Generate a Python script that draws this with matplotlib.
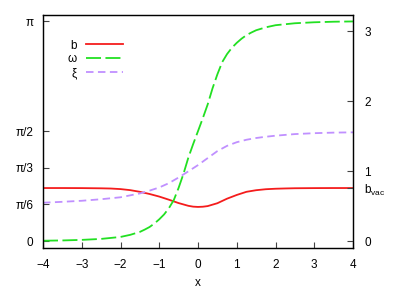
import numpy as np
import matplotlib
matplotlib.use("Agg")
import matplotlib.pyplot as plt

# ---- data ----
x_b = [-4, -3.5, -3, -2.5, -2.25, -2, -1.75, -1.5, -1.25, -1, -0.75, -0.5, -0.25, -0.125, 0,
       0.125, 0.25, 0.5, 0.75, 1, 1.25, 1.5, 1.75, 2, 2.25, 2.5, 3, 3.5, 4]
b_vals = [0.757, 0.757, 0.756, 0.753, 0.750, 0.742, 0.727, 0.703, 0.672, 0.635, 0.590, 0.542, 0.503, 0.491, 0.487,
          0.490, 0.499, 0.540, 0.605, 0.658, 0.703, 0.726, 0.740, 0.747, 0.751, 0.754, 0.756, 0.757, 0.757]

x_w = [-4, -3.5, -3, -2.5, -2, -1.75, -1.5, -1.375, -1.25, -1.125, -1, -0.875, -0.75, -0.625, -0.5,
       -0.375, -0.25, -0.125, 0, 0.125, 0.25, 0.375, 0.5, 0.625, 0.75, 0.875, 1, 1.125, 1.25,
       1.375, 1.5, 1.75, 2, 2.5, 3, 3.5, 4]
w_vals = [0.004, 0.008, 0.016, 0.03, 0.058, 0.088, 0.13, 0.163, 0.2, 0.25, 0.31, 0.38, 0.47, 0.585, 0.76,
          0.96, 1.19, 1.385, 1.57, 1.757, 1.952, 2.182, 2.382, 2.557, 2.672, 2.762, 2.832, 2.892, 2.942,
          2.979, 3.012, 3.054, 3.084, 3.112, 3.126, 3.134, 3.138]

x_xi = [-4, -3.5, -3, -2.5, -2, -1.5, -1.25, -1, -0.75, -0.5, -0.25, 0,
        0.25, 0.5, 0.75, 1, 1.25, 1.5, 1.75, 2, 2.5, 3, 3.5, 4]
xi_vals = [0.547, 0.56, 0.575, 0.597, 0.625, 0.68, 0.72, 0.765, 0.827, 0.908, 0.995, 1.085,
           1.185, 1.285, 1.36, 1.412, 1.447, 1.472, 1.49, 1.505, 1.528, 1.541, 1.549, 1.553]

left_ticks = [0, np.pi / 6, np.pi / 3, np.pi / 2, np.pi]
left_labels = ["0", "π/6", "π/3", "π/2", "π"]
right_ticks = [0, 1, 2, 3]
right_labels = ["0", "1", "2", "3"]
x_ticks = [-4, -3, -2, -1, 0, 1, 2, 3, 4]
b_vac = b_vals[-1]

# ---- style ----
plt.rcParams['font.family'] = ['Liberation Sans', 'DejaVu Sans']
plt.rcParams['font.size'] = 8.5
plt.rcParams['lines.scale_dashes'] = False
plt.rcParams['mathtext.fontset'] = 'custom'
plt.rcParams['mathtext.rm'] = 'Liberation Sans'

fig = plt.figure(figsize=(4.15, 2.9), dpi=100)
ax = fig.add_axes([43 / 415, 42 / 290, 310 / 415, 233 / 290])

lb, = ax.plot(x_b, b_vals, color='#f41c1c', lw=1.3, label='b')
lw_, = ax.plot(x_w, w_vals, color='#22e022', lw=1.3, dashes=(10.8, 3.2), label='ω')
lx, = ax.plot(x_xi, xi_vals, color='#c090ff', lw=1.3, dashes=(5.4, 3.2), label='ξ')

ax.set_xlim(-4, 4)
ax.set_ylim(-0.1, 3.23)
ax.set_xticks(x_ticks)
ax.set_xticklabels([str(v).replace('-', '−') for v in x_ticks])
ax.set_yticks(left_ticks)
ax.set_yticklabels(left_labels)
ax.set_xlabel('x', labelpad=4)

ax.tick_params(direction='in', length=4, width=0.8, color='#444444', pad=7)
ax.tick_params(axis='x', pad=8)
for s in ax.spines.values():
    s.set_linewidth(1.0)
    s.set_color('#222222')

ax2 = ax.twinx()
ax2.set_ylim(ax.get_ylim())
ax2.set_yticks(right_ticks + [b_vac])
ax2.set_yticklabels(right_labels + [r'b$_{\mathrm{vac}}$'])
ax2.tick_params(direction='in', length=4, width=0.8, color='#444444', pad=8)

leg = ax.legend(handles=[lb, lw_, lx], loc='upper left', bbox_to_anchor=(0.06, 0.92),
                frameon=False, markerfirst=False, handlelength=3.1, handletextpad=0.8,
                labelspacing=0.15, borderpad=0.0)

fig.savefig('out.png', dpi=100)
